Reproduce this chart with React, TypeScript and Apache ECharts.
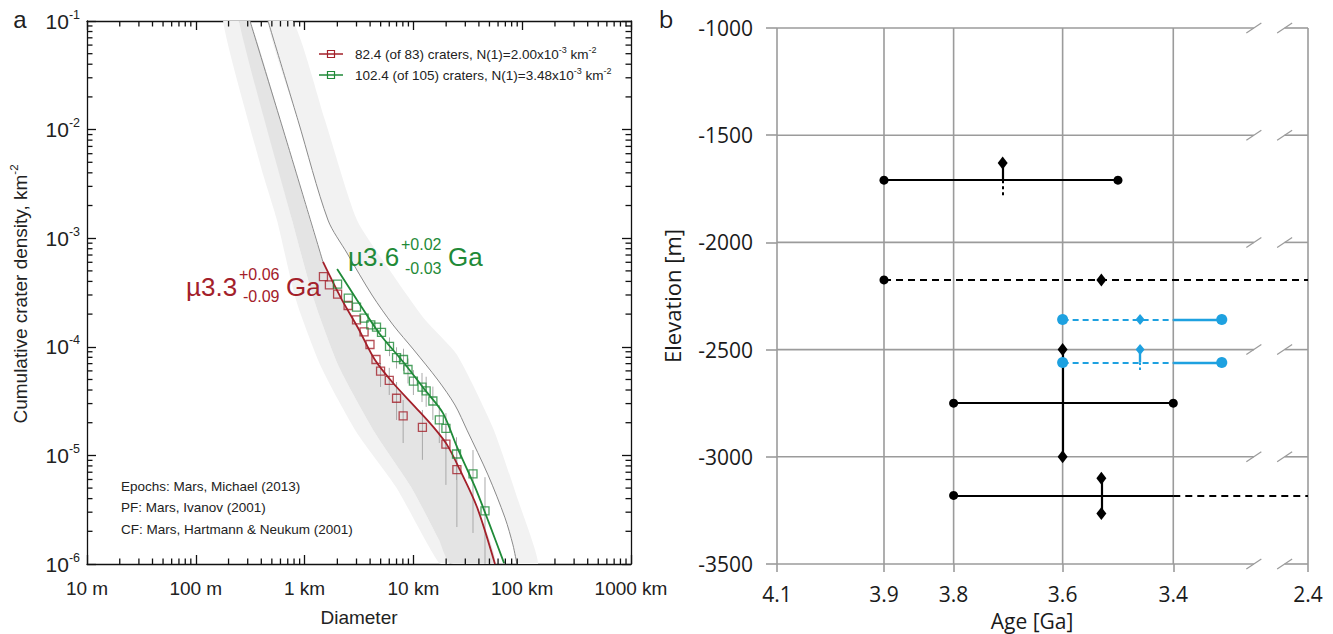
import React, { useEffect, useRef } from "react";
import * as echarts from "echarts";

type Pt = [number, number];

// ---------------- Panel a: crater size-frequency data (D [km], N cumulative [km^-2]) ----------------
const RED_SQ_D = [1.49, 1.69, 2.01, 2.51, 3.0, 3.52, 3.99, 4.53, 4.99, 6.0, 7.0, 8.05, 12.1, 19.9, 25.1];
const RED_SQ_N = [4.42e-4, 3.71e-4, 3.06e-4, 2.4e-4, 1.77e-4, 1.37e-4, 1.05e-4, 7.64e-5, 5.98e-5, 4.9e-5, 3.36e-5, 2.31e-5, 1.81e-5, 1.27e-5, 7.41e-6];
const RED_ERR_LO = [null, null, null, null, null, null, null, null, 4.27e-5, 3.6e-5, 2.12e-5, 1.3e-5, 9.1e-6, 5.35e-6, 2.19e-6];
const RED_ERR_HI = [null, null, null, null, null, null, null, null, 7.1e-5, 6.4e-5, 4.74e-5, 3.24e-5, 2.62e-5, 1.9e-5, 1.25e-5];

const GREEN_SQ_D = [2.01, 2.52, 3.0, 3.52, 4.06, 4.58, 5.09, 6.03, 7.0, 8.11, 8.92, 10.0, 12.0, 13.1, 15.1, 17.3, 19.9, 24.9, 35.3, 45.5];
const GREEN_SQ_N = [3.78e-4, 2.81e-4, 2.32e-4, 1.84e-4, 1.59e-4, 1.52e-4, 1.36e-4, 1.01e-4, 7.96e-5, 7.64e-5, 6.18e-5, 4.84e-5, 4.26e-5, 3.92e-5, 3.17e-5, 2.12e-5, 1.77e-5, 1.03e-5, 6.75e-6, 3.08e-6];
const GREEN_ERR_LO = [null, null, null, null, null, null, null, 8.2e-5, 6.3e-5, 6.0e-5, 4.6e-5, 3.6e-5, 3.1e-5, 2.8e-5, 2.12e-5, 1.3e-5, 1.12e-5, 5.94e-6, 1.93e-6, 5e-7];
const GREEN_ERR_HI = [null, null, null, null, null, null, null, 1.22e-4, 9.9e-5, 9.6e-5, 7.8e-5, 6.1e-5, 5.74e-5, 5.3e-5, 4.3e-5, 2.9e-5, 2.45e-5, 1.47e-5, 1.12e-5, 6.3e-6];

// fitted isochrones (coloured part)
const RED_FIT: Pt[] = [[1.476, 6.04e-4], [2.16, 2.81e-4], [3.1, 1.49e-4], [4.44, 7.55e-5], [6.5, 4.64e-5], [10.6, 2.73e-5], [15.5, 1.79e-5], [20.4, 1.25e-5], [26.8, 7.35e-6], [38.4, 3.35e-6], [56.2, 1.0e-6]];
const GREEN_FIT: Pt[] = [[1.99, 5.2e-4], [3.03, 2.7e-4], [4.83, 1.34e-4], [8.2, 7.1e-5], [12.8, 4.0e-5], [18.7, 2.45e-5], [25.2, 1.19e-5], [36.8, 5.12e-6], [49.5, 2.39e-6], [68.1, 1.02e-6]];

// grey isochrones
const ISO_GREY_1: Pt[] = [[0.315, 0.1], [0.675, 8.18e-3], [1.476, 6.04e-4]];
const ISO_GREY_2: Pt[] = [[0.461, 0.1], [0.869, 1.22e-2], [1.64, 1.47e-3], [2.45, 7.31e-4], [4.16, 3.0e-4], [6.5, 1.59e-4], [10.1, 9.35e-5], [16.8, 4.94e-5], [24.1, 2.91e-5], [31.1, 1.71e-5], [48.5, 6.61e-6], [69.5, 2.66e-6], [82.2, 1.5e-6], [89.5, 1.0e-6]];

// epoch band edges
const EPOCH_EDGE_A: Pt[] = [[0.178, 0.1], [0.397, 4.53e-3], [0.557, 1.47e-3], [0.834, 2.7e-4], [1.42, 6.52e-5], [3.03, 1.61e-5], [6.92, 5.12e-6], [17.2, 1.02e-6]];
const EPOCH_EDGE_B: Pt[] = [[0.249, 0.1], [0.766, 1.47e-3], [1.22, 2.7e-4], [2.07, 6.52e-5], [4.44, 1.61e-5], [9.51, 5.12e-6], [17.2, 1.66e-6], [21.7, 1.02e-6]];
const EPOCH_EDGE_C: Pt[] = [[0.781, 0.1], [1.54, 1.22e-2], [3.03, 1.47e-3], [6.5, 4.58e-4], [12.8, 1.77e-4], [25.2, 8.41e-5], [53.9, 1.79e-5], [91.5, 3.88e-6], [140, 1.0e-6]];

const X_DECADE_EXP = [-2, -1, 0, 1, 2, 3];
const X_DECADE_LABELS = ["10 m", "100 m", "1 km", "10 km", "100 km", "1000 km"];
const X_MINOR_DECADES = [-2, -1, 0, 1, 2];
const Y_MINOR_DECADES = [-6, -5, -4, -3, -2];
const MINOR_MULTIPLES = [2, 3, 4, 5, 6, 7, 8, 9];

// ---------------- Panel b: ages vs elevation ----------------
const AGE_TICKS = [4.1, 3.9, 3.8, 3.6, 3.4, 2.4];
const AGE_TICK_SLOTS = [0, 0.2015, 0.3326, 0.5379, 0.7463, 1]; // broken, non-linear axis layout
const BREAK_SLOTS = [0.898, 0.956];
const ELEV_TICKS = [-1000, -1500, -2000, -2500, -3000, -3500];

// segments: [age1, elev1, age2, elev2]
const BLACK_SOLID = [[3.9, -1710, 3.5, -1710], [3.71, -1630, 3.71, -1710], [3.8, -2750, 3.4, -2750], [3.6, -2500, 3.6, -3000], [3.8, -3180, 3.4, -3180], [3.53, -3100, 3.53, -3265]];
const BLACK_DASHED = [[3.9, -2175, 2.4, -2175], [3.4, -3180, 2.4, -3180]];
const BLACK_DOTTED = [[3.71, -1710, 3.71, -1782]];
const BLUE_DASHED = [[3.6, -2360, 3.4, -2360], [3.6, -2560, 3.4, -2560]];
const BLUE_SOLID = [[3.4, -2360, 3.04, -2360], [3.4, -2560, 3.04, -2560], [3.46, -2500, 3.46, -2560]];
const BLUE_DOTTED = [[3.46, -2560, 3.46, -2605]];
const BLACK_DOTS = [[3.9, -1710], [3.5, -1710], [3.9, -2175], [3.8, -2750], [3.4, -2750], [3.8, -3180]];
const BLACK_DIAMONDS = [[3.71, -1630], [3.53, -2175], [3.6, -2500], [3.6, -3000], [3.53, -3100], [3.53, -3265]];
const BLUE_DOTS = [[3.6, -2360], [3.04, -2360], [3.6, -2560], [3.04, -2560]];
const BLUE_DIAMONDS = [[3.46, -2360], [3.46, -2500]];

// ---------------- styles ----------------
const RED = "#a3202a";
const GREEN = "#1f8a38";
const BLUE = "#1ea1e0";
const GRID_GRAY = "#9b9b9b";
const FONT_A = "'Liberation Sans', Arial, sans-serif";
const FONT_B = "'Open Sans', 'Noto Sans', sans-serif";
const FRAME = { color: "#111", width: 1.3 };
const PX = 3; // x axis index of panel b
const PY = 3; // y axis index of panel b
const MINOR_TICK_LEN = 5.5;

function zipPts(d: number[], n: number[]): Pt[] {
  return d.map((v, i) => [v, n[i]] as Pt);
}

function ageToSlot(age: number): number {
  for (let i = 0; i < AGE_TICKS.length - 1; i++) {
    const a0 = AGE_TICKS[i], a1 = AGE_TICKS[i + 1];
    if (age <= a0 && age >= a1) {
      return AGE_TICK_SLOTS[i] + ((a0 - age) / (a0 - a1)) * (AGE_TICK_SLOTS[i + 1] - AGE_TICK_SLOTS[i]);
    }
  }
  return age > AGE_TICKS[0] ? 0 : 1;
}

function minorValues(decades: number[]): number[] {
  const out: number[] = [];
  decades.forEach((e) => MINOR_MULTIPLES.forEach((m) => out.push(m * Math.pow(10, e))));
  return out;
}

function bandSeries(left: Pt[], right: Pt[], fill: string) {
  return {
    type: "custom",
    xAxisIndex: 0,
    yAxisIndex: 0,
    clip: true,
    silent: true,
    z: 1,
    data: [[1, 0.001]],
    encode: { x: 0, y: 1 },
    renderItem: (_p: any, api: any) => {
      const pts = left.map((p) => api.coord(p)).concat(right.slice().reverse().map((p) => api.coord(p)));
      return { type: "polygon", shape: { points: pts, smooth: 0.2 }, style: { fill, stroke: null } };
    },
  };
}

function errSeries(d: number[], lo: (number | null)[], hi: (number | null)[]) {
  const data: number[][] = [];
  d.forEach((v, i) => {
    if (lo[i] != null && hi[i] != null) data.push([v, lo[i] as number, hi[i] as number]);
  });
  return {
    type: "custom",
    xAxisIndex: 0,
    yAxisIndex: 0,
    clip: true,
    silent: true,
    z: 3,
    data,
    encode: { x: 0, y: [1, 2] },
    renderItem: (_p: any, api: any) => {
      const a = api.coord([api.value(0), api.value(1)]);
      const b = api.coord([api.value(0), api.value(2)]);
      return { type: "line", shape: { x1: a[0], y1: a[1], x2: b[0], y2: b[1] }, style: { stroke: "#a9a9a9", lineWidth: 1 } };
    },
  };
}

// minor log ticks: one short stub per value, drawn through the log axes
function minorTickSeries() {
  const xs = minorValues(X_MINOR_DECADES);
  const ys = minorValues(Y_MINOR_DECADES);
  const data: number[][] = [];
  xs.forEach((d) => {
    data.push([d, 1e-6, 0]);
    data.push([d, 0.1, 1]);
  });
  ys.forEach((n) => {
    data.push([0.01, n, 2]);
    data.push([1000, n, 3]);
  });
  return {
    type: "custom",
    xAxisIndex: 0,
    yAxisIndex: 0,
    silent: true,
    z: 9,
    data,
    encode: { x: 0, y: 1 },
    renderItem: (_p: any, api: any) => {
      const p = api.coord([api.value(0), api.value(1)]);
      const side = api.value(2);
      const L = MINOR_TICK_LEN;
      const dx = side === 2 ? L : side === 3 ? -L : 0;
      const dy = side === 0 ? -L : side === 1 ? L : 0;
      return { type: "line", shape: { x1: p[0], y1: p[1], x2: p[0] + dx, y2: p[1] + dy }, style: { stroke: FRAME.color, lineWidth: FRAME.width } };
    },
  };
}

function segSeries(segs: number[][], color: string, width: number, type: any, z = 4) {
  return {
    type: "lines",
    coordinateSystem: "cartesian2d",
    xAxisIndex: PX,
    yAxisIndex: PY,
    silent: true,
    z,
    data: segs.map((s) => ({ coords: [[ageToSlot(s[0]), s[1]], [ageToSlot(s[2]), s[3]]] })),
    lineStyle: { color, width, type, opacity: 1, curveness: 0 },
  };
}

function symSeries(pts: number[][], color: string, symbol: string, size: any) {
  return {
    type: "scatter",
    xAxisIndex: PX,
    yAxisIndex: PY,
    silent: true,
    z: 6,
    data: pts.map((p) => [ageToSlot(p[0]), p[1]]),
    symbol,
    symbolSize: size,
    itemStyle: { color, opacity: 1 },
  };
}

function buildGraphic(): any[] {
  const supRich = (size: number, fill: string) => ({ s: { fontFamily: FONT_A, fontSize: size, fill, verticalAlign: "top" } });
  const T = (x: number, y: number, style: any, extra: any = {}) => ({ type: "text", x, y, z: 50, style, ...extra });
  return [
    T(20, 19, { text: "a", fontFamily: FONT_A, fontSize: 24, fill: "#222", align: "center", verticalAlign: "middle" }),
    T(666, 18, { text: "b", fontFamily: FONT_B, fontSize: 24, fill: "#1a1a1a", align: "center", verticalAlign: "middle" }),
    T(
      20,
      294,
      {
        text: "Cumulative crater density, km{s|-2}",
        fontFamily: FONT_A,
        fontSize: 19,
        lineHeight: 24,
        fill: "#222",
        align: "center",
        verticalAlign: "middle",
        rich: supRich(11.5, "#222"),
      },
      { rotation: Math.PI / 2 }
    ),
    T(359, 617, { text: "Diameter", fontFamily: FONT_A, fontSize: 19, fill: "#222", align: "center", verticalAlign: "middle" }),
    { type: "line", z: 50, shape: { x1: 319, y1: 54, x2: 343, y2: 54 }, style: { stroke: RED, lineWidth: 1.5 } },
    { type: "rect", z: 50, shape: { x: 327.5, y: 50.5, width: 7, height: 7 }, style: { stroke: RED, fill: null, lineWidth: 1.2 } },
    T(355, 54, { text: "82.4 (of 83) craters, N(1)=2.00x10{s|-3} km{s|-2}", fontFamily: FONT_A, fontSize: 13.5, lineHeight: 18, fill: "#222", verticalAlign: "middle", rich: supRich(9, "#222") }),
    { type: "line", z: 50, shape: { x1: 319, y1: 75, x2: 343, y2: 75 }, style: { stroke: GREEN, lineWidth: 1.5 } },
    { type: "rect", z: 50, shape: { x: 327.5, y: 71.5, width: 7, height: 7 }, style: { stroke: GREEN, fill: null, lineWidth: 1.2 } },
    T(355, 75, { text: "102.4 (of 105) craters, N(1)=3.48x10{s|-3} km{s|-2}", fontFamily: FONT_A, fontSize: 13.5, lineHeight: 18, fill: "#222", verticalAlign: "middle", rich: supRich(9, "#222") }),
    T(121, 486, { text: "Epochs: Mars, Michael (2013)", fontFamily: FONT_A, fontSize: 13.5, fill: "#222", verticalAlign: "middle" }),
    T(121, 507, { text: "PF: Mars, Ivanov (2001)", fontFamily: FONT_A, fontSize: 13.5, fill: "#222", verticalAlign: "middle" }),
    T(121, 529, { text: "CF: Mars, Hartmann & Neukum (2001)", fontFamily: FONT_A, fontSize: 13.5, fill: "#222", verticalAlign: "middle" }),
    T(186, 287, { text: "µ3.3", fontFamily: FONT_A, fontSize: 26, fill: RED, verticalAlign: "middle" }),
    T(239, 274, { text: "+0.06", fontFamily: FONT_A, fontSize: 16, fill: RED, verticalAlign: "middle" }),
    T(243, 296, { text: "-0.09", fontFamily: FONT_A, fontSize: 16, fill: RED, verticalAlign: "middle" }),
    T(286, 287, { text: "Ga", fontFamily: FONT_A, fontSize: 26, fill: RED, verticalAlign: "middle" }),
    T(348, 257, { text: "µ3.6", fontFamily: FONT_A, fontSize: 26, fill: GREEN, verticalAlign: "middle" }),
    T(401, 244, { text: "+0.02", fontFamily: FONT_A, fontSize: 16, fill: GREEN, verticalAlign: "middle" }),
    T(405, 268, { text: "-0.03", fontFamily: FONT_A, fontSize: 16, fill: GREEN, verticalAlign: "middle" }),
    T(448, 257, { text: "Ga", fontFamily: FONT_A, fontSize: 26, fill: GREEN, verticalAlign: "middle" }),
    T(672, 296, { text: "Elevation [m]", fontFamily: FONT_B, fontSize: 22, fill: "#1a1a1a", align: "center", verticalAlign: "middle" }, { rotation: Math.PI / 2 }),
    T(1032, 621, { text: "Age [Ga]", fontFamily: FONT_B, fontSize: 21, fill: "#1a1a1a", align: "center", verticalAlign: "middle" }),
  ];
}

function buildOption() {
  const majorX = (position: string, labels: boolean) => ({
    type: "value",
    gridIndex: 0,
    min: -2,
    max: 3,
    interval: 1,
    position,
    axisLine: { show: true, onZero: false, lineStyle: FRAME },
    axisTick: { show: true, inside: true, length: 9, lineStyle: FRAME },
    axisLabel: labels
      ? {
          show: true,
          margin: 15,
          fontFamily: FONT_A,
          fontSize: 19,
          color: "#222",
          formatter: (v: number) => {
            const i = X_DECADE_EXP.indexOf(Math.round(v));
            return i >= 0 ? X_DECADE_LABELS[i] : "";
          },
        }
      : { show: false },
    splitLine: { show: false },
  });
  const majorY = (position: string, labels: boolean) => ({
    type: "value",
    gridIndex: 0,
    min: -6,
    max: -1,
    interval: 1,
    position,
    axisLine: { show: true, onZero: false, lineStyle: FRAME },
    axisTick: { show: true, inside: true, length: 9, lineStyle: FRAME },
    axisLabel: labels
      ? {
          show: true,
          margin: 7,
          formatter: (v: number) => `{b|10}{s|${Math.round(v)}}`,
          rich: {
            b: { fontFamily: FONT_A, fontSize: 21, color: "#222", lineHeight: 26 },
            s: { fontFamily: FONT_A, fontSize: 12.5, color: "#222", verticalAlign: "top", lineHeight: 14 },
          },
        }
      : { show: false },
    splitLine: { show: false },
  });

  const redPts = zipPts(RED_SQ_D, RED_SQ_N);
  const greenPts = zipPts(GREEN_SQ_D, GREEN_SQ_N);
  const iso1Full: Pt[] = ISO_GREY_1.slice(0, -1).concat(RED_FIT);

  return {
    animation: false,
    backgroundColor: "#fff",
    grid: [
      { left: 87, top: 21, width: 544, height: 543, containLabel: false },
      { left: 777, top: 28, width: 531, height: 536, containLabel: false },
    ],
    xAxis: [
      { type: "log", gridIndex: 0, min: 0.01, max: 1000, logBase: 10, show: false },
      majorX("bottom", true),
      majorX("top", false),
      {
        type: "value",
        gridIndex: 1,
        min: 0,
        max: 1,
        position: "bottom",
        axisLine: { show: false, onZero: false },
        axisTick: { show: true, inside: false, length: 8, customValues: AGE_TICK_SLOTS, lineStyle: { color: GRID_GRAY, width: 1.6 } },
        axisLabel: {
          show: true,
          customValues: AGE_TICK_SLOTS,
          margin: 19,
          fontFamily: FONT_B,
          fontSize: 21,
          color: "#1a1a1a",
          formatter: (v: number) => {
            const i = AGE_TICK_SLOTS.findIndex((s) => Math.abs(s - v) < 1e-6);
            return i >= 0 ? AGE_TICKS[i].toFixed(1) : "";
          },
        },
        splitLine: { show: false },
      },
    ],
    yAxis: [
      { type: "log", gridIndex: 0, min: 1e-6, max: 0.1, logBase: 10, show: false },
      majorY("left", true),
      majorY("right", false),
      {
        type: "value",
        gridIndex: 1,
        min: -3500,
        max: -1000,
        interval: 500,
        position: "left",
        axisLine: { show: false, onZero: false },
        axisTick: { show: true, inside: false, length: 11, lineStyle: { color: GRID_GRAY, width: 1.6 } },
        axisLabel: { show: true, margin: 24, fontFamily: FONT_B, fontSize: 21, color: "#1a1a1a", padding: [0, 0, 8, 0], formatter: (v: number) => String(v) },
        splitLine: { show: false },
      },
    ],
    graphic: buildGraphic(),
    series: [
      bandSeries(EPOCH_EDGE_A, EPOCH_EDGE_B, "#f2f2f2"),
      bandSeries(EPOCH_EDGE_B, iso1Full, "#e4e4e4"),
      bandSeries(ISO_GREY_2, EPOCH_EDGE_C, "#f2f2f2"),
      { type: "line", xAxisIndex: 0, yAxisIndex: 0, data: ISO_GREY_1, showSymbol: false, smooth: 0.3, silent: true, z: 2, lineStyle: { color: "#8a8a8a", width: 1 } },
      { type: "line", xAxisIndex: 0, yAxisIndex: 0, data: ISO_GREY_2, showSymbol: false, smooth: 0.3, silent: true, z: 2, lineStyle: { color: "#8a8a8a", width: 1 } },
      errSeries(RED_SQ_D, RED_ERR_LO, RED_ERR_HI),
      errSeries(GREEN_SQ_D, GREEN_ERR_LO, GREEN_ERR_HI),
      { type: "line", xAxisIndex: 0, yAxisIndex: 0, data: RED_FIT, showSymbol: false, smooth: 0.3, silent: true, z: 4, lineStyle: { color: RED, width: 1.8 } },
      { type: "line", xAxisIndex: 0, yAxisIndex: 0, data: GREEN_FIT, showSymbol: false, smooth: 0.3, silent: true, z: 4, lineStyle: { color: GREEN, width: 1.8 } },
      { type: "scatter", xAxisIndex: 0, yAxisIndex: 0, data: redPts, symbol: "rect", symbolSize: 8, silent: true, z: 5, itemStyle: { color: "rgba(0,0,0,0)", borderColor: RED, borderWidth: 1.3 } },
      { type: "scatter", xAxisIndex: 0, yAxisIndex: 0, data: greenPts, symbol: "rect", symbolSize: 8, silent: true, z: 5, itemStyle: { color: "rgba(0,0,0,0)", borderColor: GREEN, borderWidth: 1.3 } },
      minorTickSeries(),

      {
        type: "custom",
        xAxisIndex: PX,
        yAxisIndex: PY,
        silent: true,
        z: 1,
        data: [[0.5, -2000]],
        encode: { x: 0, y: 1 },
        renderItem: (_p: any, api: any) => {
          const children: any[] = [];
          const ls = { stroke: GRID_GRAY, lineWidth: 1.6 };
          ELEV_TICKS.forEach((e) => {
            const a = api.coord([0, e]);
            const b1 = api.coord([BREAK_SLOTS[0], e]);
            const b2 = api.coord([BREAK_SLOTS[1], e]);
            const c = api.coord([1, e]);
            children.push({ type: "line", shape: { x1: a[0], y1: a[1], x2: b1[0], y2: b1[1] }, style: ls });
            children.push({ type: "line", shape: { x1: b2[0], y1: b2[1], x2: c[0], y2: c[1] }, style: ls });
            [b1, b2].forEach((bp) =>
              children.push({ type: "line", shape: { x1: bp[0] - 7.5, y1: bp[1] + 5, x2: bp[0] + 7.5, y2: bp[1] - 5 }, style: { stroke: GRID_GRAY, lineWidth: 1.2 } })
            );
          });
          AGE_TICK_SLOTS.forEach((s) => {
            const t = api.coord([s, ELEV_TICKS[0]]);
            const u = api.coord([s, ELEV_TICKS[ELEV_TICKS.length - 1]]);
            children.push({ type: "line", shape: { x1: t[0], y1: t[1], x2: u[0], y2: u[1] }, style: ls });
          });
          return { type: "group", children };
        },
      },
      segSeries(BLACK_SOLID, "#000", 2.2, "solid"),
      segSeries(BLACK_DASHED, "#000", 2, [7, 5]),
      segSeries(BLACK_DOTTED, "#000", 2, [3, 3]),
      segSeries(BLUE_DASHED, BLUE, 2, [6, 4]),
      segSeries(BLUE_SOLID, BLUE, 2.4, "solid"),
      segSeries(BLUE_DOTTED, BLUE, 2, [2.5, 2.5]),
      symSeries(BLACK_DOTS, "#000", "circle", 9),
      symSeries(BLACK_DIAMONDS, "#000", "diamond", [10, 13]),
      symSeries(BLUE_DOTS, BLUE, "circle", 11),
      symSeries(BLUE_DIAMONDS, BLUE, "diamond", [9, 11]),
    ],
  };
}

export default function App() {
  const ref = useRef<HTMLDivElement>(null);
  useEffect(() => {
    document.body.style.margin = "0";
    if (!ref.current) return;
    const chart = echarts.init(ref.current, undefined, { renderer: "svg" });
    chart.setOption(buildOption() as any);
    return () => chart.dispose();
  }, []);
  return <div ref={ref} style={{ width: 1333, height: 634 }} />;
}
